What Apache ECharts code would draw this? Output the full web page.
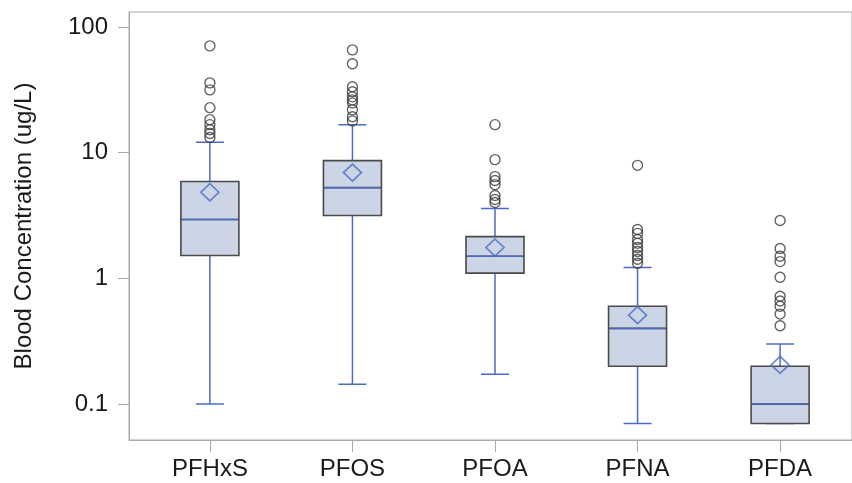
<!DOCTYPE html>
<html>
<head>
<meta charset="utf-8">
<script src="https://cdn.jsdelivr.net/npm/echarts@6/dist/echarts.min.js"></script>
<style>html,body{margin:0;padding:0;background:#fff}#c{width:852px;height:483px}</style>
</head>
<body>
<div id="c"></div>
<script>
// ---- data ----
const categories = ['PFHxS', 'PFOS', 'PFOA', 'PFNA', 'PFDA'];
const mins    = [0.10, 0.144, 0.173, 0.07, 0.07];
const q1s     = [1.52, 3.16, 1.10, 0.20, 0.07];
const medians = [2.94, 5.27, 1.50, 0.40, 0.10];
const q3s     = [5.89, 8.64, 2.15, 0.60, 0.20];
const maxs    = [12.1, 16.7, 3.59, 1.22, 0.30];
const means   = [4.84, 6.94, 1.76, 0.51, 0.205];
const outliersPFHxS = [70.7, 35.9, 31.6, 22.8, 18.3, 16.7, 15.2, 14.2, 13.2];
const outliersPFOS  = [65.7, 50.9, 33.4, 30.5, 27.8, 26.3, 24.9, 21.9, 19.3, 17.9];
const outliersPFOA  = [16.7, 8.8, 6.45, 6.0, 5.57, 4.56, 4.24, 4.01];
const outliersPFNA  = [7.93, 2.45, 2.28, 2.04, 1.9, 1.76, 1.64, 1.52, 1.42, 1.32];
const outliersPFDA  = [2.89, 1.73, 1.5, 1.36, 1.02, 0.72, 0.66, 0.6, 0.52, 0.42];
const yTicks = [0.1, 1, 10, 100];

const outlierLists = [outliersPFHxS, outliersPFOS, outliersPFOA, outliersPFNA, outliersPFDA];
const idx = categories.map((c, i) => i);

const BLUE = '#4a6cc4';
const GRAY = '#a9a9a9';
const FONT = 'Liberation Sans, Arial, sans-serif';

const xBase = {
  type: 'value', min: -0.5674, max: 4.5044,
  splitLine: { show: false }
};
function hiddenX() {
  return Object.assign({}, xBase, { show: false });
}

const chart = echarts.init(document.getElementById('c'), null, { renderer: 'canvas' });
chart.setOption({
  animation: false,
  grid: { left: 129, right: -1, top: 12, bottom: 43, show: true, borderColor: GRAY, borderWidth: 1 },
  xAxis: [
    Object.assign({}, xBase, {
      axisLine: { show: true, onZero: false, lineStyle: { color: GRAY, width: 1 } },
      axisTick: { show: true, length: 12, customValues: idx, lineStyle: { color: GRAY } },
      axisLabel: {
        customValues: idx, margin: 17, color: '#1a1a1a', fontSize: 24, fontFamily: FONT,
        formatter: v => categories[Math.round(v)]
      }
    }),
    hiddenX(), hiddenX()
  ],
  yAxis: {
    type: 'log', logBase: 10, min: 0.0518, max: 131.5,
    name: 'Blood Concentration (ug/L)', nameLocation: 'middle', nameGap: 93,
    nameTextStyle: { color: '#1a1a1a', fontSize: 24, fontFamily: FONT },
    axisLine: { show: true, onZero: false, lineStyle: { color: GRAY } },
    axisTick: { show: true, inside: false, length: 11, customValues: yTicks, lineStyle: { color: GRAY } },
    axisLabel: { customValues: yTicks, margin: 21, color: '#1a1a1a', fontSize: 24, fontFamily: FONT,
      formatter: v => String(v) },
    splitLine: { show: false },
    minorTick: { show: false }
  },
  series: [
    { // whiskers
      type: 'boxplot', xAxisIndex: 1, boxWidth: [28, 28],
      itemStyle: { color: 'transparent', borderColor: BLUE, borderWidth: 1.5 },
      data: idx.map(i => [i, mins[i], medians[i], medians[i], medians[i], maxs[i]])
    },
    { // boxes
      type: 'boxplot', xAxisIndex: 0, boxWidth: [58, 58],
      itemStyle: { color: '#cbd5e6', borderColor: '#4a4a4a', borderWidth: 1.6 },
      data: idx.map(i => [i, q1s[i], q1s[i], medians[i], q3s[i], q3s[i]])
    },
    { // median line
      type: 'boxplot', xAxisIndex: 2, boxWidth: [55, 55],
      itemStyle: { color: 'transparent', borderColor: BLUE, borderWidth: 1.5 },
      data: idx.map(i => [i, medians[i], medians[i], medians[i], medians[i], medians[i]])
    },
    { // means
      type: 'scatter', xAxisIndex: 0, symbol: 'diamond', symbolSize: [18, 17],
      itemStyle: { color: 'transparent', borderColor: BLUE, borderWidth: 1.7 },
      data: idx.map(i => [i, means[i]])
    },
    { // outliers
      type: 'scatter', xAxisIndex: 0, symbol: 'circle', symbolSize: 10,
      itemStyle: { color: 'transparent', borderColor: '#3c3c3c', borderWidth: 1.4 },
      data: outlierLists.flatMap((arr, i) => arr.map(v => [i, v]))
    }
  ]
});
</script>
</body>
</html>
